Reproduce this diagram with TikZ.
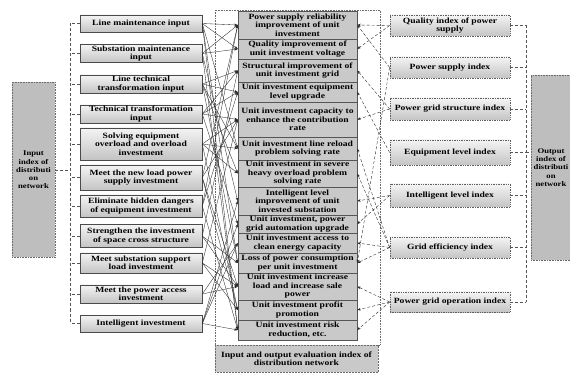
\documentclass[tikz,border=0pt]{standalone}
\usepackage{fontspec}
\setmainfont{Liberation Serif}[FakeStretch=1.2]
\usepackage{xcolor}
\usepackage{tikz}
\usetikzlibrary{arrows.meta,positioning}
\definecolor{ink}{HTML}{2A2A2A}
\definecolor{midfill}{HTML}{C9C9C9}
\definecolor{sidefill}{HTML}{BEBEBE}
\definecolor{shadetop}{HTML}{F4F4F4}
\definecolor{shadebot}{HTML}{C4C4C4}

\begin{document}
\begin{tikzpicture}[x=1pt,y=-1pt,font=\fontsize{8}{8.5}\selectfont\bfseries,>={Stealth[length=3.5pt,width=2.6pt]},
 inbox/.style={draw=ink!85,line width=0.6pt,top color=shadetop,bottom color=shadebot,minimum width=122pt,align=center,inner sep=0pt},
 outbox/.style={draw=ink!75,line width=0.7pt,densely dotted,top color=shadetop,bottom color=shadebot,minimum width=120pt,align=center,inner sep=0pt},
 midbox/.style={draw=ink!80,line width=0.5pt,fill=midfill,minimum width=119pt,align=center,inner sep=0pt},
 bigbox/.style={draw=ink!70,line width=0.6pt,densely dotted,fill=sidefill,align=center,inner sep=0pt,font=\fontsize{7.2}{8.3}\selectfont\bfseries},
 link/.style={->,ink,line width=0.35pt},
 backlink/.style={->,ink,line width=0.4pt,densely dashed},
 trunk/.style={ink!80,line width=0.6pt,densely dashed}]
\useasboundingbox (0,0) rectangle (570,379);
% 1: the two sides
\node[bigbox,minimum width=43pt,minimum height=175pt] (inidx) at (33.5,170) {Input\\index of\\distributi\\on\\network};
\node[bigbox,minimum width=40pt,minimum height=185pt] (outidx) at (551,167.5) {Output\\index of\\distributi\\on\\network};
% 2: investment items
\foreach \n/\yc/\h/\t in {1/23.5/17/{Line maintenance input},2/53.5/18/{Substation maintenance\\input},
 3/84/18/{Line technical\\transformation input},4/114/18/{Technical transformation\\input},
 5/144/32/{Solving equipment\\overload and overload\\investment},6/177.5/25/{Meet the new load power\\supply investment},
 7/206/22/{Eliminate hidden dangers\\of equipment investment},8/236/23/{Strengthen the investment\\of space cross structure},
 9/263/20/{Meet substation support\\load investment},10/294/18/{Meet the power access\\investment},
 11/323.5/17/{Intelligent investment}}
 {\node[inbox,minimum height=\h] (L\n) at (141,\yc) {\t};}
% 3: the middle column
\draw[ink!70,line width=0.6pt,densely dotted] (215,10) rectangle (380,345);
\foreach \n/\yc/\h/\t in {1/25/28/{Power supply reliability\\improvement of unit\\investment},
 2/49/20/{Quality improvement of\\unit investment voltage},3/70.5/23/{Structural improvement of\\unit investment grid},
 4/92/20/{Unit investment equipment\\level upgrade},5/119.5/35/{Unit investment capacity to\\enhance the contribution\\rate},
 6/148.5/23/{Unit investment line reload\\problem solving rate},7/173.5/27/{Unit investment in severe\\heavy overload problem\\solving rate},
 8/201/28/{Intelligent level\\improvement of unit\\invested substation},9/224/18/{Unit investment, power\\grid automation upgrade},
 10/243/20/{Unit investment access to\\clean energy capacity},11/263/20/{Loss of power consumption\\per unit investment},
 12/286.5/27/{Unit investment increase\\load and increase sale\\power},13/310/20/{Unit investment profit\\promotion},
 14/330/20/{Unit investment risk\\reduction, etc.}}
 {\node[midbox,minimum height=\h] (C\n) at (297.5,\yc) {\t};}
\node[midbox,minimum width=163pt,minimum height=27pt,draw=ink!70,densely dotted] (evalidx) at (296.5,358.5) {Input and output evaluation index of\\distribution network};
% 4: output indexes
\foreach \n/\yc/\h/\t in {1/25.5/21/{Quality index of power\\supply},2/67.5/21/{Power supply index},
 3/109/22/{Power grid structure index},4/152.5/25/{Equipment level index},5/195.5/23/{Intelligent level index},
 6/247.5/21/{Grid efficiency index},7/302/20/{Power grid operation index}}
 {\node[outbox,minimum height=\h] (R\n) at (450,\yc) {\t};}
% 5: brackets
\coordinate (lb) at (70,0);
\coordinate (rb) at (526,0);
\draw[trunk] (L1.west -| lb) -- (L11.west -| lb);
\foreach \n in {1,...,11} {\draw[trunk] (L\n.west) -- (L\n.west -| lb);}
\draw[trunk] (inidx.east) -- (inidx.east -| lb);
\draw[trunk] (R1.east -| rb) -- (R7.east -| rb);
\foreach \n in {1,...,7} {\draw[trunk] (R\n.east) -- (R\n.east -| rb);}
\draw[trunk] (R4.east -| rb) -- (R4.east -| outidx.west);
% 6: inputs to the middle
\foreach \a/\b in {1/1,1/2,1/6,1/11,1/14,2/1,2/2,2/8,2/14,3/3,3/4,3/6,3/7,3/11,4/3,4/4,4/5,4/9,
 5/5,5/6,5/7,5/13,6/1,6/5,6/12,6/13,7/1,7/4,7/14,8/3,8/11,8/12,9/5,9/12,9/13,10/10,10/12,
 11/8,11/9,11/10,11/14}
 {\draw[link] (L\a.east) -- (C\b.west);}
% 7: indexes back to the middle
\foreach \a/\b in {1/1,1/2,2/1,2/11,3/3,3/5,4/4,5/8,5/9,6/6,6/7,6/10,6/11,7/12,7/13,7/14}
 {\draw[backlink] (R\a.west) -- (C\b.east);}
\end{tikzpicture}
\end{document}
